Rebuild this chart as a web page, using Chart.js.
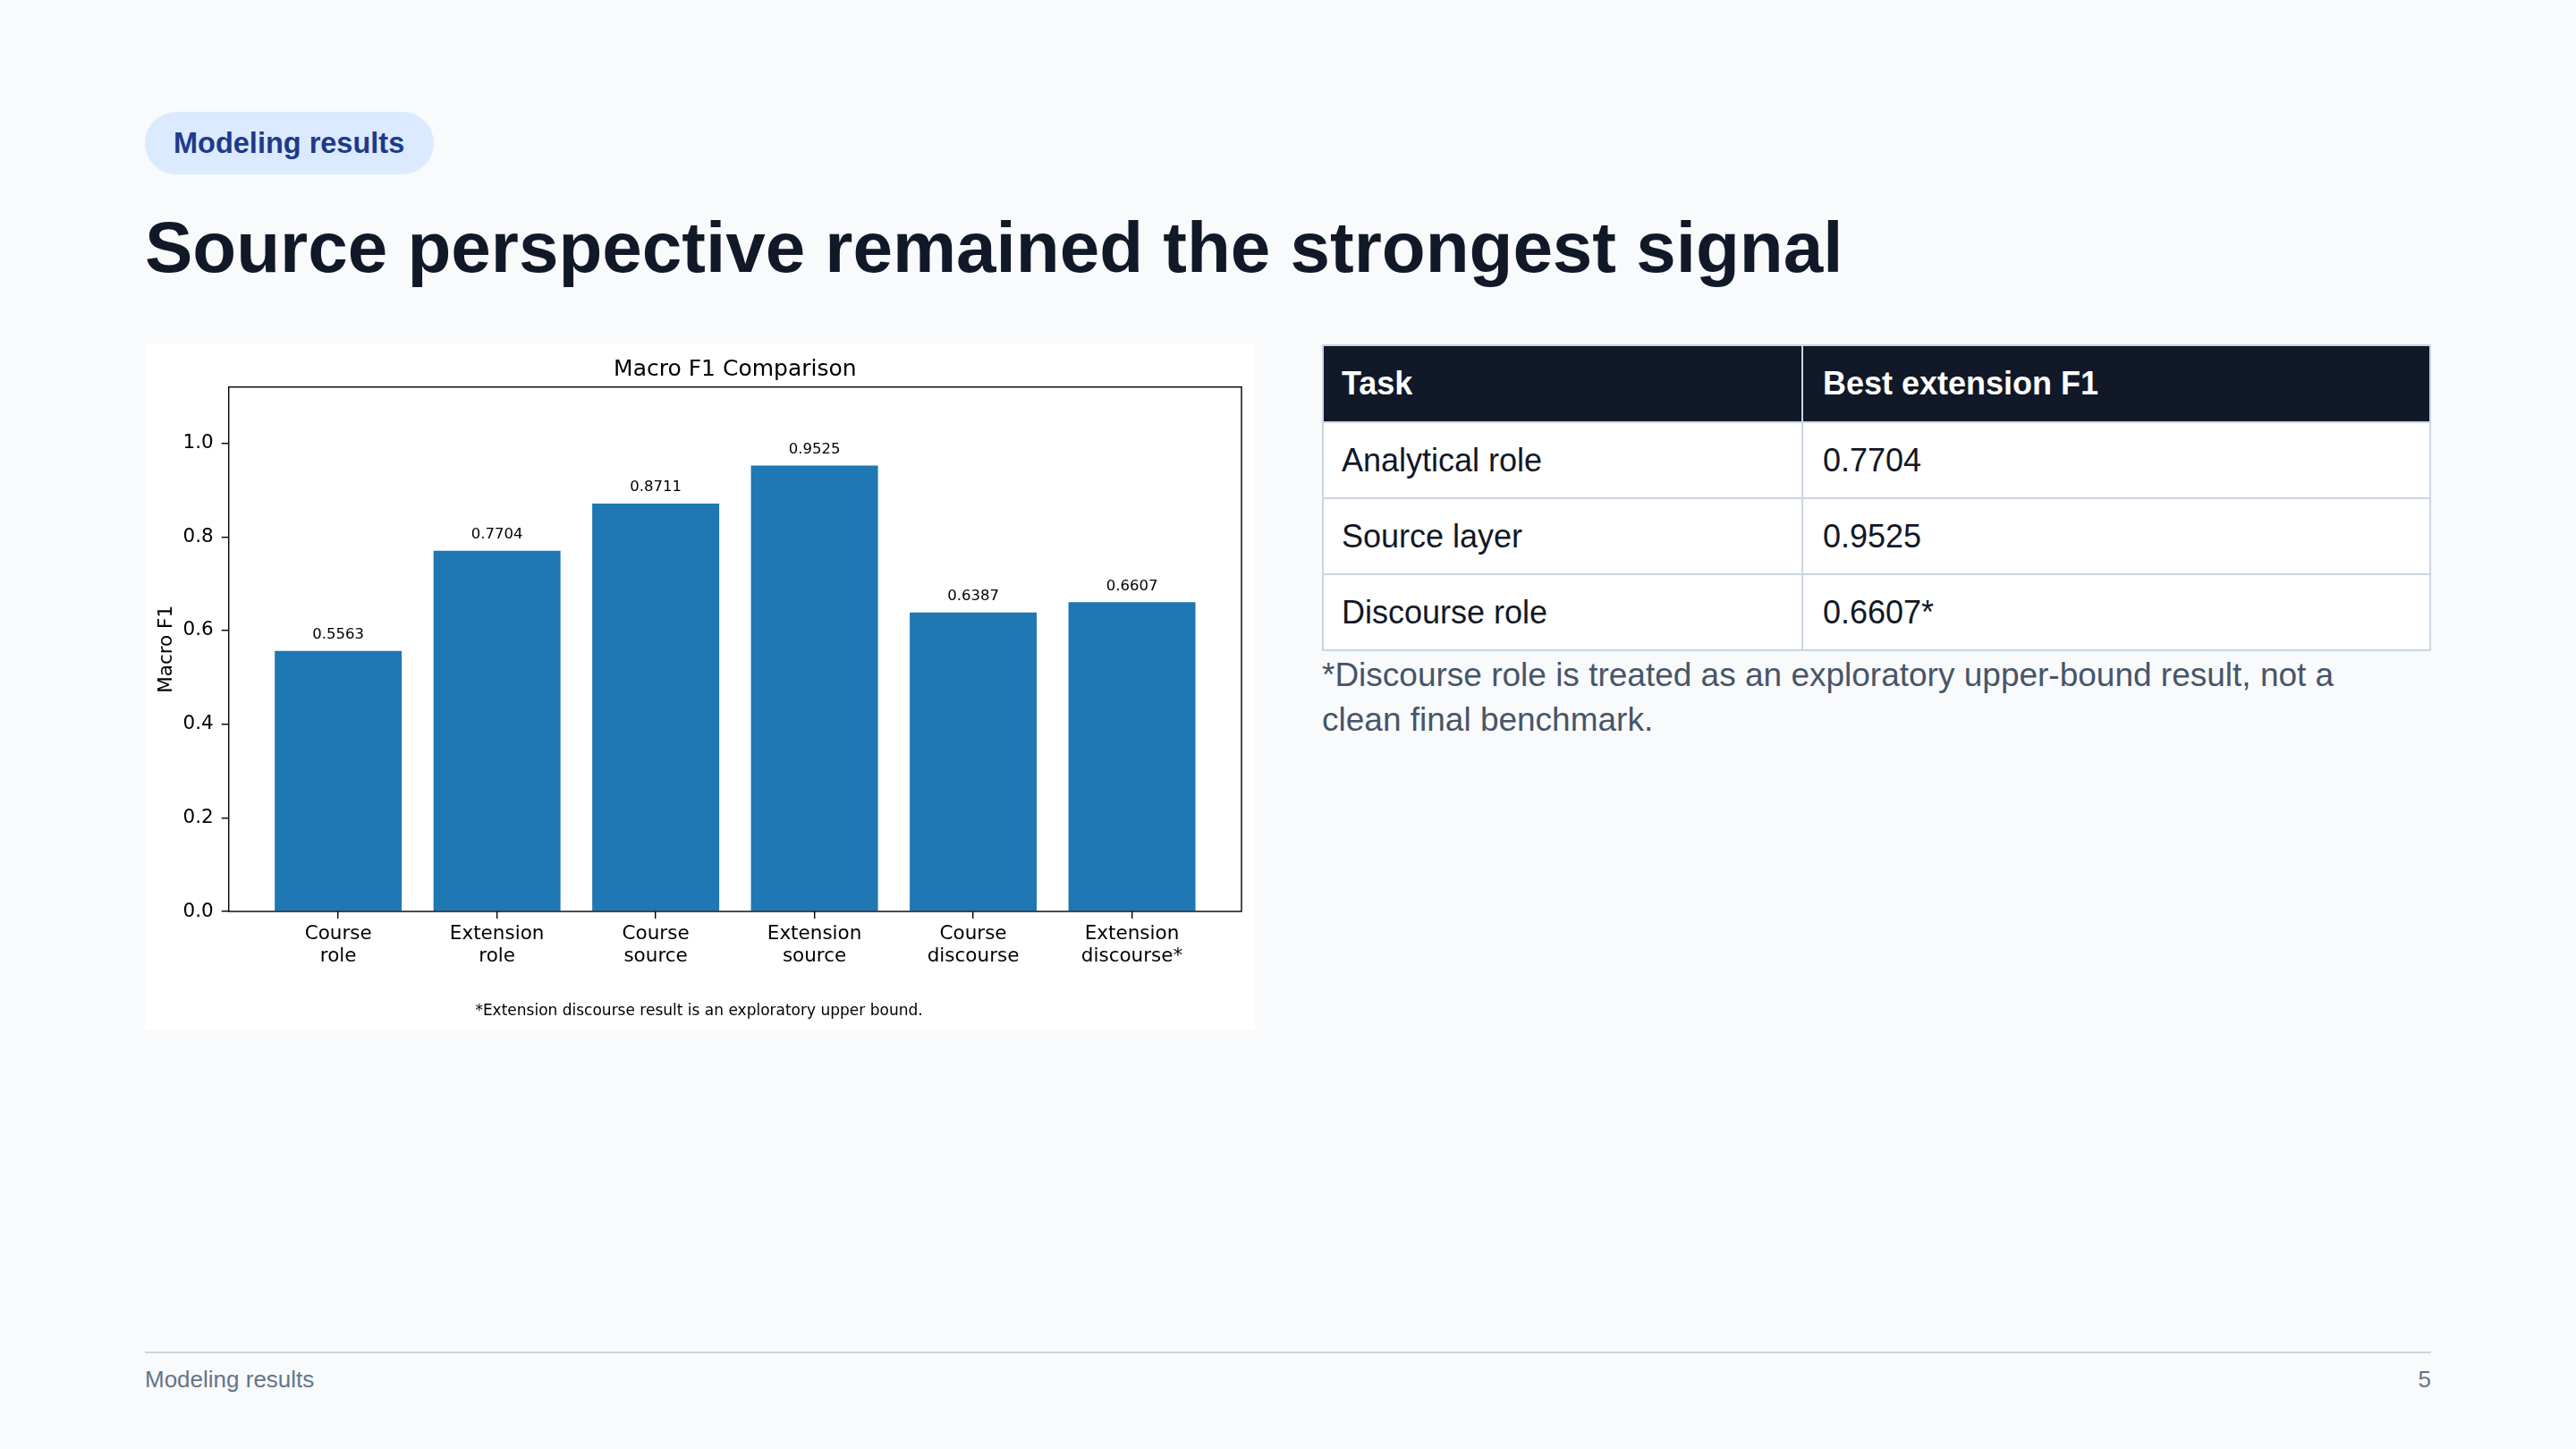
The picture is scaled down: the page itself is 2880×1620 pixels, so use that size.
<!DOCTYPE html>
<html>
<head>
<meta charset="utf-8">
<script src="https://cdn.jsdelivr.net/npm/chart.js@4.4.1/dist/chart.umd.min.js"></script>
<style>
html, body { margin: 0; padding: 0; }
body {
    width: 2880px; height: 1620px; position: relative; overflow: hidden;
    background: #f8fafc; font-family: "Liberation Sans", Arial, sans-serif;
}
.pill {
    position: absolute; left: 162px; top: 125px; width: 323px; height: 70px;
    box-sizing: border-box; padding-left: 32px; border-radius: 35px;
    background: #dbeafe; color: #1e3a8a; font-weight: bold; font-size: 32.5px;
    line-height: 70px; white-space: nowrap;
}
.headline {
    position: absolute; left: 162px; top: 237px; margin: 0;
    font-size: 80px; line-height: 80px; font-weight: bold; color: #111827; white-space: nowrap;
}
.panel {
    position: absolute; left: 162px; top: 384px; width: 1241px; height: 767px; background: #fff;
}
.panel canvas { display: block; }
table.scores {
    position: absolute; left: 1478px; top: 385px; width: 1240px;
    border-collapse: collapse; font-size: 36px; color: #111827; background: #fff;
}
table.scores th, table.scores td {
    border: 2px solid #cbd5e1; padding: 0 0 0 22px; text-align: left; vertical-align: middle;
}
table.scores tr > :first-child { padding-left: 20px; }
table.scores th { background: #111827; color: #fff; height: 84px; font-weight: bold; }
table.scores td { height: 83px; font-weight: normal; }
.note {
    position: absolute; left: 1478px; top: 730px; width: 1200px;
    font-size: 37px; line-height: 50px; color: #475569;
}
.rule { position: absolute; left: 162px; top: 1511px; width: 2556px; height: 2px; background: #cbd5e1; }
.foot { position: absolute; top: 1529px; font-size: 26px; line-height: 26px; color: #64748b; }
</style>
</head>
<body>

<div class="pill">Modeling results</div>
<h1 class="headline">Source perspective remained the strongest signal</h1>

<div class="panel"><canvas id="f1chart" width="1241" height="767"></canvas></div>

<table class="scores">
    <tr><th style="width:514px">Task</th><th>Best extension F1</th></tr>
    <tr><td>Analytical role</td><td>0.7704</td></tr>
    <tr><td>Source layer</td><td>0.9525</td></tr>
    <tr><td>Discourse role</td><td>0.6607*</td></tr>
</table>
<div class="note">*Discourse role is treated as an exploratory upper-bound result, not a clean final benchmark.</div>

<div class="rule"></div>
<div class="foot" style="left:162px">Modeling results</div>
<div class="foot" style="right:162px">5</div>

<script>
// chart data
var categories = [
    ['Course', 'role'],
    ['Extension', 'role'],
    ['Course', 'source'],
    ['Extension', 'source'],
    ['Course', 'discourse'],
    ['Extension', 'discourse*']
];
var f1Values = [0.5563, 0.7704, 0.8711, 0.9525, 0.6387, 0.6607];
var yTicks = [0.0, 0.2, 0.4, 0.6, 0.8, 1.0];
var yMax = 1.12;
var chartTitle = 'Macro F1 Comparison';
var footNote = '*Extension discourse result is an exploratory upper bound.';

var mplFont = '"DejaVu Sans", "Liberation Sans", sans-serif';

// bars sit on integer positions of a linear x axis (matplotlib style margins)
var barPoints = [];
for (var i = 0; i < f1Values.length; i++) {
    barPoints.push({ x: i, y: f1Values[i] });
}

var extras = {
    id: 'extras',
    afterDatasetsDraw: function (chart) {
        var ctx = chart.ctx;
        var meta = chart.getDatasetMeta(0);
        ctx.save();
        ctx.fillStyle = '#000';
        ctx.font = '16.5px ' + mplFont;
        ctx.textAlign = 'center';
        ctx.textBaseline = 'alphabetic';
        meta.data.forEach(function (bar, i) {
            ctx.fillText(f1Values[i].toFixed(4), bar.x, bar.y - 13.5);
        });
        ctx.restore();
    },
    afterDraw: function (chart) {
        var ctx = chart.ctx;
        var a = chart.chartArea;
        ctx.save();
        ctx.strokeStyle = '#000';
        ctx.lineWidth = 1.4;
        ctx.strokeRect(a.left, a.top, a.right - a.left, a.bottom - a.top);

        ctx.fillStyle = '#000';
        ctx.textAlign = 'center';
        ctx.textBaseline = 'alphabetic';
        ctx.font = '25px ' + mplFont;
        ctx.fillText(chartTitle, (a.left + a.right) / 2, 36);
        ctx.font = '17px ' + mplFont;
        ctx.fillText(footNote, 619.5, 751);
        ctx.restore();
    }
};

var tickFont = { family: mplFont, size: 21.5, lineHeight: 1.15 };

var f1Chart = new Chart(document.getElementById('f1chart').getContext('2d'), {
    type: 'bar',
    data: {
        datasets: [{
            data: barPoints,
            backgroundColor: '#1f77b4',
            borderWidth: 0,
            barPercentage: 0.8,
            categoryPercentage: 1.0
        }]
    },
    options: {
        responsive: false,
        devicePixelRatio: 1,
        animation: false,
        layout: { padding: { top: 48.7, right: 15, bottom: 0, left: 0 } },
        plugins: {
            legend: { display: false },
            tooltip: { enabled: false }
        },
        scales: {
            x: {
                type: 'linear',
                min: -0.69,
                max: 5.69,
                offset: false,
                border: { display: false },
                grid: { offset: false, drawOnChartArea: false, drawTicks: true, tickLength: 8, color: '#000', lineWidth: 1.4 },
                afterBuildTicks: function (scale) {
                    scale.ticks = categories.map(function (c, i) { return { value: i }; });
                },
                afterFit: function (scale) { scale.height = 132; },
                ticks: {
                    autoSkip: false,
                    maxRotation: 0,
                    padding: 5.5,
                    color: '#000',
                    font: tickFont,
                    callback: function (value) { return categories[value]; }
                }
            },
            y: {
                min: 0,
                max: yMax,
                border: { display: false },
                grid: { drawOnChartArea: false, drawTicks: true, tickLength: 8, color: '#000', lineWidth: 1.4 },
                afterBuildTicks: function (scale) {
                    scale.ticks = yTicks.map(function (v) { return { value: v }; });
                },
                afterFit: function (scale) { scale.width = 93.7; },
                ticks: {
                    padding: 9,
                    color: '#000',
                    font: tickFont,
                    callback: function (value) { return value.toFixed(1); }
                },
                title: {
                    display: true,
                    text: 'Macro F1',
                    color: '#000',
                    padding: { top: 11.5, bottom: 0 },
                    font: { family: mplFont, size: 21.5, lineHeight: 1.2 }
                }
            }
        }
    },
    plugins: [extras]
});
</script>
</body>
</html>
